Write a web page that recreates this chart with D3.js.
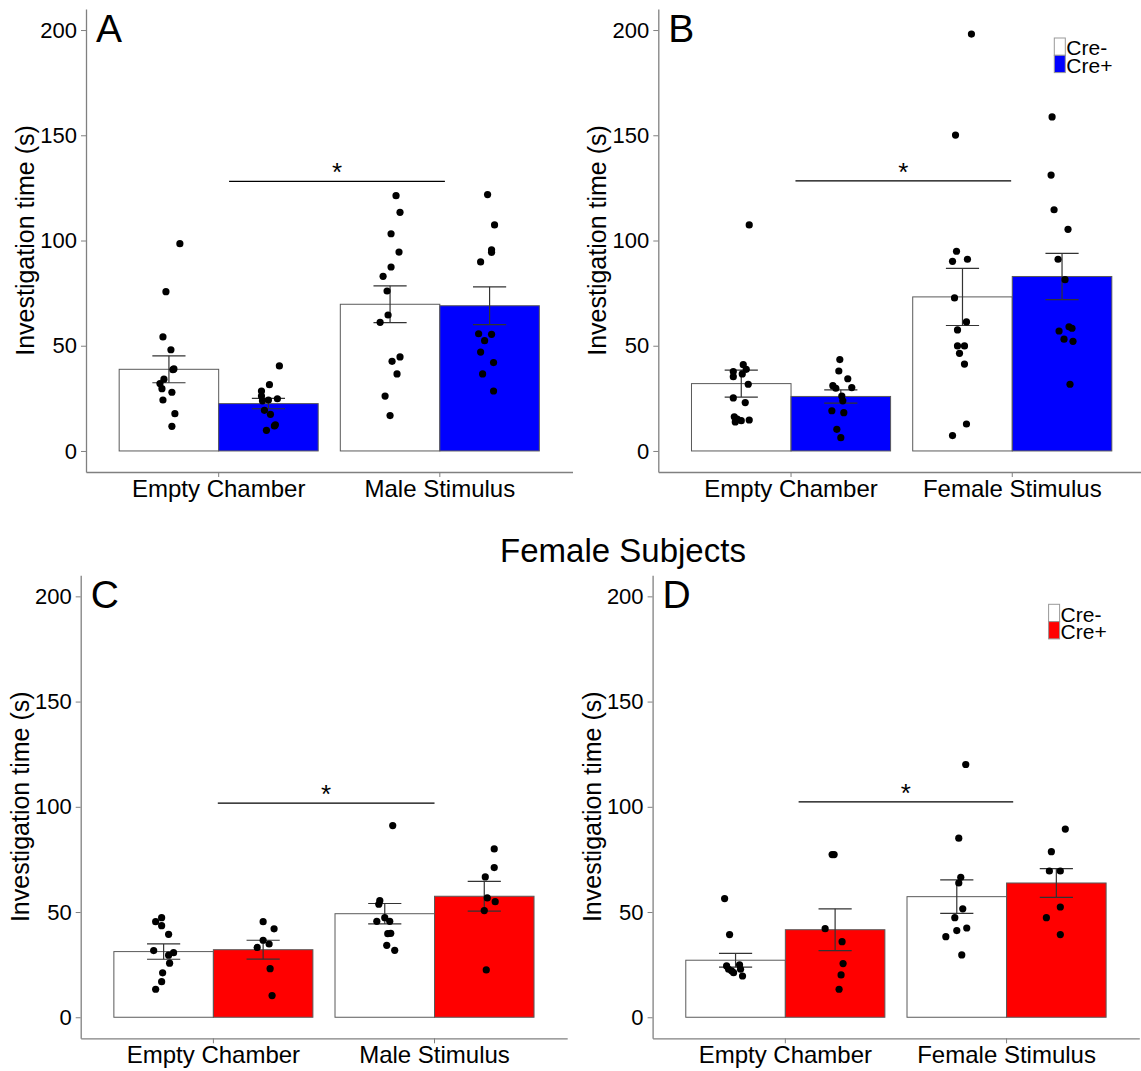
<!DOCTYPE html>
<html>
<head>
<meta charset="utf-8">
<script src="https://cdn.jsdelivr.net/npm/d3@7"></script>
<style>
  body { margin: 0; background: #fff; }
  svg { display: block; }
  text { font-family: "Liberation Sans", Arial, sans-serif; fill: #000; }
</style>
</head>
<body>
<svg id="chart" width="1141" height="1071"></svg>
<script>
  var groups = ["Cre-", "Cre+"];
  var yTicks = [0, 50, 100, 150, 200];

  // Panel A
  var catsA = ["Empty Chamber", "Male Stimulus"];
  var meanA = [[38.8, 22.5], [69.7, 69.0]];
  var errA = [[6.4, 2.45], [8.75, 9.0]];
  var ptsA = [
    [[[98.5,0.11],[75.7,-0.03],[54.2,-0.06],[48.1,0.02],[39.0,0.05],[38.6,0.04],[34.1,-0.05],[32.0,-0.09],[29.6,-0.07],[27.9,0.03],[24.2,-0.06],[17.7,0.06],[11.7,0.03]],
     [[40.4,0.11],[31.5,0.01],[28.5,-0.07],[26.1,-0.07],[23.8,-0.06],[24.2,0],[24.8,0.09],[19.3,-0.04],[17.4,0.02],[12.4,0.07],[11.9,0.06],[9.8,-0.02]]],
    [[[121.3,0.06],[113.4,0.10],[103.2,0.01],[94.5,0.09],[87.4,0.01],[83.0,-0.07],[76.0,-0.03],[64.6,-0.02],[61.1,-0.10],[44.7,0.10],[42.6,0.02],[36.6,0.07],[26.1,-0.05],[16.8,0]],
     [[121.8,-0.02],[107.4,0.05],[95.6,0.02],[94.4,0.02],[89.8,-0.09],[55.7,-0.11],[55.4,0.02],[52.4,-0.05],[47.0,-0.09],[42.0,0.04],[36.6,-0.07],[28.5,0.04]]]
  ];
  var sigA = [0.047, 1.023, 128.1];

  // Panel B
  var catsB = ["Empty Chamber", "Female Stimulus"];
  var meanB = [[32.0, 25.9], [73.2, 82.9]];
  var errB = [[6.4, 3.15], [13.6, 10.95]];
  var ptsB = [
    [[[107.4,0.08],[41.0,0.02],[38.8,0.05],[37.7,-0.08],[36.6,0.01],[35.3,-0.08],[31.7,0.07],[25.2,-0.08],[23.0,0.04],[16.2,-0.07],[15.1,-0.04],[13.8,-0.06],[14.4,0],[14.7,0.08]],
     [[43.4,-0.01],[38.0,-0.02],[34.3,0.07],[31.0,-0.08],[29.8,-0.05],[30.1,0.11],[26.1,0.01],[23.8,0.02],[19.1,-0.09],[18.2,0.03],[10.3,-0.04],[6.3,0]]],
    [[[198.1,0.09],[150.1,-0.07],[94.9,-0.06],[90.1,-0.10],[91.1,0.05],[72.7,-0.08],[61.3,0.04],[57.5,-0.05],[49.9,-0.05],[49.9,0.02],[46.4,-0.03],[41.3,0.02],[12.8,0.04],[7.3,-0.10]],
     [[158.7,-0.10],[131.1,-0.11],[114.6,-0.08],[105.3,0.06],[91.1,-0.04],[81.4,0.03],[59.0,0.07],[58.3,0.10],[57.0,-0.03],[53.1,0.02],[52.1,0.11],[31.7,0.08]]]
  ];
  var sigB = [0.02, 0.995, 128.3];

  // Panel C
  var catsC = ["Empty Chamber", "Male Stimulus"];
  var meanC = [[31.2, 32.1], [49.2, 57.5]];
  var errC = [[3.65, 4.5], [4.85, 7.05]];
  var ptsC = [
    [[[47.3,-0.02],[45.4,-0.08],[43.5,-0.02],[39.4,0.05],[31.7,-0.10],[30.7,0.10],[29.5,0.05],[25.7,0.06],[21.1,-0.01],[16.9,-0.02],[13.3,-0.08]],
     [[45.4,0],[42.0,0.11],[36.6,0],[34.8,0.06],[33.2,-0.06],[23.1,0.07],[10.3,0.09]]],
    [[[91.1,0.08],[55.4,-0.05],[53.7,-0.06],[47.3,0],[45.6,-0.08],[45.6,0.05],[39.7,0.03],[39.9,0.06],[34.2,0.02],[31.8,0.10]],
     [[80.0,0.10],[71.1,0.10],[66.7,0.01],[56.7,0.03],[54.9,0.11],[50.7,0],[22.5,0.02]]]
  ];
  var sigC = [0.02, 1.0, 101.7];

  // Panel D
  var catsD = ["Empty Chamber", "Female Stimulus"];
  var meanD = [[27.1, 41.6], [57.3, 63.8]];
  var errD = [[3.3, 9.9], [7.95, 6.85]];
  var ptsD = [
    [[[56.4,-0.11],[39.3,-0.06],[24.4,-0.09],[22.8,-0.07],[22.1,-0.04],[21.2,-0.02],[24.9,0.04],[22.8,0.05],[19.6,0.07]],
     [[77.3,-0.03],[77.3,-0.01],[42.1,-0.10],[35.9,0.07],[25.5,0.08],[20.1,0.06],[13.3,0.04]]],
    [[[120.1,0.09],[85.1,0.02],[66.5,0.04],[63.8,0.02],[51.5,0.06],[47.3,-0.02],[42.4,0.10],[41.2,0],[38.3,-0.11],[29.6,0.05]],
     [[89.4,0.09],[78.7,-0.05],[69.5,-0.07],[69.5,0.04],[52.4,0.04],[47.3,-0.10],[39.3,0.04]]]
  ];
  var sigD = [0.06, 1.03, 102.3];

  var panels = [
    {label: "A", cats: catsA, means: meanA, errs: errA, pts: ptsA, sig: sigA, fill: "#0000ff", x0: 86, x1: 572.5, y0: 472, y1: 9, legend: false},
    {label: "B", cats: catsB, means: meanB, errs: errB, pts: ptsB, sig: sigB, fill: "#0000ff", x0: 658.3, x1: 1145, y0: 472, y1: 9, legend: true},
    {label: "C", cats: catsC, means: meanC, errs: errC, pts: ptsC, sig: sigC, fill: "#ff0000", x0: 80.7, x1: 567.2, y0: 1038.3, y1: 575.3, legend: false},
    {label: "D", cats: catsD, means: meanD, errs: errD, pts: ptsD, sig: sigD, fill: "#ff0000", x0: 652.6, x1: 1139.3, y0: 1038.3, y1: 575.3, legend: true}
  ];

  var svg = d3.select("#chart");

  function draw_panel(p) {
    var g = svg.append("g");
    var x = d3.scaleBand().domain(p.cats).range([p.x0, p.x1]).paddingInner(0.1).paddingOuter(0.15);
    var xs = d3.scaleBand().domain(groups).range([0, x.bandwidth()]);
    var y = d3.scaleLinear().domain([-10, 210]).range([p.y0, p.y1]);
    var step = x.step();
    var color = d3.scaleOrdinal().domain(groups).range(["#ffffff", p.fill]);

    var rows = [];
    p.cats.forEach(function(c, i) {
      groups.forEach(function(gr, j) {
        rows.push({cat: c, grp: gr, mean: p.means[i][j], se: p.errs[i][j], pts: p.pts[i][j]});
      });
    });

    // bars
    g.selectAll("rect.bar").data(rows).enter().append("rect")
      .attr("class", "bar")
      .attr("x", function(d) { return x(d.cat) + xs(d.grp); })
      .attr("width", xs.bandwidth())
      .attr("y", function(d) { return y(d.mean); })
      .attr("height", function(d) { return y(0) - y(d.mean); })
      .attr("fill", function(d) { return color(d.grp); })
      .attr("stroke", "#5a5a5a")
      .attr("stroke-width", 1);

    // error bars
    var capHalf = step * 0.075;
    rows.forEach(function(d) {
      var cx = x(d.cat) + xs(d.grp) + xs.bandwidth() / 2;
      var lo = y(d.mean - d.se), hi = y(d.mean + d.se);
      var eg = g.append("g").attr("stroke", "#333").attr("stroke-width", 1.2);
      eg.append("line").attr("x1", cx).attr("x2", cx).attr("y1", lo).attr("y2", hi);
      eg.append("line").attr("x1", cx - capHalf).attr("x2", cx + capHalf).attr("y1", lo).attr("y2", lo);
      eg.append("line").attr("x1", cx - capHalf).attr("x2", cx + capHalf).attr("y1", hi).attr("y2", hi);
    });

    // points
    rows.forEach(function(d) {
      var cx = x(d.cat) + xs(d.grp) + xs.bandwidth() / 2;
      g.selectAll(null).data(d.pts).enter().append("circle")
        .attr("cx", function(pt) { return cx + pt[1] * xs.bandwidth(); })
        .attr("cy", function(pt) { return y(pt[0]); })
        .attr("r", 3.6)
        .attr("fill", "#000");
    });

    // significance line
    var c0 = x(p.cats[0]) + x.bandwidth() / 2;
    var sx1 = c0 + p.sig[0] * step, sx2 = c0 + p.sig[1] * step, sy = y(p.sig[2]);
    g.append("line").attr("x1", sx1).attr("x2", sx2).attr("y1", sy).attr("y2", sy)
      .attr("stroke", "#000").attr("stroke-width", 1.2);
    g.append("text").attr("x", (sx1 + sx2) / 2).attr("y", sy)
      .attr("text-anchor", "middle").style("font-size", "26px").text("*");

    // axes
    var ya = g.append("g").attr("transform", "translate(" + p.x0 + ",0)")
      .call(d3.axisLeft(y).tickValues(yTicks).tickSize(5).tickPadding(4).tickSizeOuter(0));
    ya.selectAll("text").style("font-size", "22px").style("font-family", "'Liberation Sans', Arial, sans-serif").attr("fill", "#000");
    ya.selectAll("line").attr("stroke", "#808080");
    ya.select(".domain").attr("stroke", "#808080").attr("stroke-width", 1.3);

    var xa = g.append("g").attr("transform", "translate(0," + p.y0 + ")")
      .call(d3.axisBottom(x).tickSize(5).tickPadding(3).tickSizeOuter(0));
    xa.selectAll("text").style("font-size", "24px").style("font-family", "'Liberation Sans', Arial, sans-serif").attr("fill", "#000");
    xa.selectAll("line").attr("stroke", "#808080");
    xa.select(".domain").attr("stroke", "#808080").attr("stroke-width", 1.3);

    // y title
    var ymid = (p.y0 + p.y1) / 2;
    g.append("text")
      .attr("transform", "translate(" + (p.x0 - 52) + "," + ymid + ") rotate(-90)")
      .attr("text-anchor", "middle").style("font-size", "25px")
      .text("Investigation time (s)");

    // panel letter
    g.append("text").attr("x", p.x0 + 10).attr("y", p.y1 + 33)
      .style("font-size", "39px").text(p.label);

    // legend
    if (p.legend) {
      var lx = p.x0 + 396, ly = p.y1 + 29;
      groups.forEach(function(gr, j) {
        g.append("rect").attr("x", lx).attr("y", ly + j * 17.3).attr("width", 11).attr("height", 17.3)
          .attr("fill", color(gr)).attr("stroke", "#999").attr("stroke-width", 1);
        g.append("text").attr("x", lx + 12).attr("y", ly + (j + 1) * 17.3)
          .style("font-size", "21px").text(gr);
      });
    }
  }

  panels.forEach(draw_panel);

  svg.append("text").attr("x", 623).attr("y", 561.7).attr("text-anchor", "middle")
    .style("font-size", "33px").text("Female Subjects");
</script>
</body>
</html>
